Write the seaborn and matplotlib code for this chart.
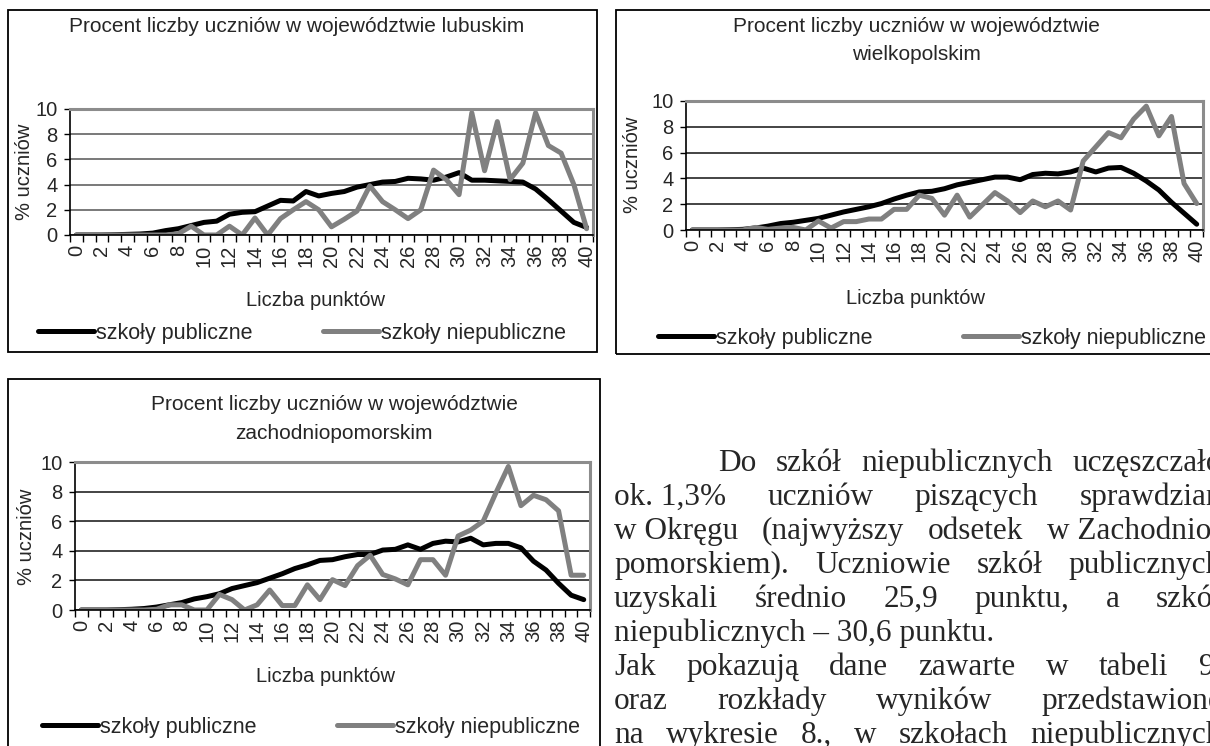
import matplotlib
matplotlib.use("Agg")
import matplotlib.pyplot as plt
from matplotlib.patches import Rectangle
import numpy as np
import pandas as pd
import seaborn as sns

W, H = 1210, 746

# ── data ──────────────────────────────────────────────────────────────
punkty = list(range(41))
serie = ["szkoły publiczne", "szkoły niepubliczne"]

lubuskie_publiczne = [0, 0, 0, 0.02, 0.05, 0.08, 0.15, 0.35, 0.5, 0.75, 1.0, 1.1, 1.65, 1.8, 1.85, 2.3,
                      2.75, 2.7, 3.45, 3.1, 3.3, 3.45, 3.8, 4.0, 4.2, 4.25, 4.5, 4.45, 4.35, 4.6, 4.95,
                      4.35, 4.35, 4.3, 4.25, 4.2, 3.65, 2.8, 1.9, 1.0, 0.6]
lubuskie_niepubliczne = [0, 0, 0, 0, 0, 0, 0, 0, 0.1, 0.7, 0, 0, 0.7, 0, 1.35, 0, 1.3, 2.0, 2.65, 2.0,
                         0.65, 1.25, 1.9, 3.9, 2.65, 2.0, 1.3, 2.0, 5.15, 4.4, 3.2, 9.7, 5.1, 9.0, 4.4,
                         5.7, 9.7, 7.1, 6.5, 4.0, 0.5]

wielkopolskie_publiczne = [0, 0, 0, 0.02, 0.05, 0.15, 0.3, 0.5, 0.6, 0.75, 0.9, 1.15, 1.4, 1.6, 1.8,
                           2.05, 2.4, 2.7, 2.95, 3.0, 3.2, 3.5, 3.7, 3.9, 4.1, 4.1, 3.9, 4.3, 4.4, 4.35,
                           4.5, 4.8, 4.5, 4.8, 4.85, 4.4, 3.8, 3.1, 2.15, 1.3, 0.45]
wielkopolskie_niepubliczne = [0, 0, 0, 0, 0, 0.2, 0.05, 0.15, 0.2, 0, 0.7, 0.15, 0.65, 0.65, 0.85,
                              0.85, 1.6, 1.6, 2.7, 2.45, 1.15, 2.7, 1.0, 1.95, 2.9, 2.25, 1.35, 2.25,
                              1.8, 2.25, 1.55, 5.35, 6.45, 7.55, 7.15, 8.6, 9.6, 7.3, 8.8, 3.6, 2.05]

zachodniopomorskie_publiczne = [0, 0, 0, 0.02, 0.05, 0.1, 0.2, 0.35, 0.5, 0.75, 0.9, 1.1, 1.45, 1.65,
                                1.85, 2.15, 2.45, 2.8, 3.05, 3.35, 3.4, 3.6, 3.75, 3.75, 4.05, 4.1, 4.4,
                                4.1, 4.5, 4.65, 4.6, 4.85, 4.4, 4.5, 4.5, 4.2, 3.3, 2.7, 1.8, 1.0, 0.7]
zachodniopomorskie_niepubliczne = [0, 0, 0, 0, 0, 0, 0.05, 0.35, 0.35, 0, 0, 1.05, 0.7, 0, 0.35, 1.35,
                                   0.3, 0.3, 1.7, 0.7, 2.05, 1.65, 3.0, 3.7, 2.4, 2.1, 1.7, 3.4, 3.4,
                                   2.35, 5.0, 5.4, 6.0, 7.9, 9.7, 7.05, 7.75, 7.45, 6.7, 2.35, 2.35]

x_ticks = list(range(0, 41, 2))
y_ticks = [0, 2, 4, 6, 8, 10]

tekst = [
    (["Do", "szkół", "niepublicznych", "uczęszczało"], True),
    (["ok.\u00a01,3%", "uczniów", "piszących", "sprawdzian"], True),
    (["w\u00a0Okręgu", "(najwyższy", "odsetek", "w\u00a0Zachodnio-"], True),
    (["pomorskiem).", "Uczniowie", "szkół", "publicznych"], True),
    (["uzyskali", "średnio", "25,9", "punktu,", "a", "szkół"], True),
    (["niepublicznych – 30,6 punktu."], False),
    (["Jak", "pokazują", "dane", "zawarte", "w", "tabeli", "9."], True),
    (["oraz", "rozkłady", "wyników", "przedstawione"], True),
    (["na", "wykresie", "8.,", "w", "szkołach", "niepublicznych"], True),
]

# ── style ─────────────────────────────────────────────────────────────
sns.set_style("white")
plt.rcParams["font.family"] = ["Liberation Sans", "DejaVu Sans"]

_BLACK = "#000000"
_GRAY = "#808080"
_FRAME = "#8c8c8c"
palette = {serie[0]: _BLACK, serie[1]: _GRAY}


def _rect(x0, y0, x1, y1):
    return [x0 / W, 1 - y1 / H, (x1 - x0) / W, (y1 - y0) / H]


def _fy(y):
    return 1 - y / H


def draw_chart(fig, pub, npub, box, plot, titles, title_cx, ylab, xlab, legend_at, colspace, grid_color):
    x0, y0, x1, y1 = box
    fig.add_artist(Rectangle((x0 / W, _fy(y1)), (x1 - x0) / W, (y1 - y0) / H,
                             transform=fig.transFigure, fill=False, lw=1.3, ec="black"))

    ax = fig.add_axes(_rect(*plot))
    df = pd.DataFrame({
        "punkty": punkty * 2,
        "procent": pub + npub,
        "typ": [serie[0]] * len(pub) + [serie[1]] * len(npub),
    })
    sns.lineplot(data=df, x="punkty", y="procent", hue="typ", hue_order=serie,
                 palette=palette, linewidth=3.6, ax=ax, legend=False)
    for ln in ax.lines:
        ln.set_solid_joinstyle("round")

    ax.set_xlim(-0.5, 40.5)
    ax.set_ylim(0, 10)
    ax.set_xlabel("")
    ax.set_ylabel("")
    ax.set_xticks(x_ticks)
    ax.set_xticklabels([str(v) for v in x_ticks], rotation=90, fontsize=14.5)
    ax.set_xticks(np.arange(-0.5, 41, 1), minor=True)
    ax.set_yticks(y_ticks)
    ax.set_yticklabels([str(v) for v in y_ticks], fontsize=14.5)
    ax.tick_params(axis="x", which="major", length=0, pad=7, bottom=True)
    ax.tick_params(axis="x", which="minor", length=5, width=1, color="black", bottom=True)
    ax.tick_params(axis="y", length=4, width=1, color="black", pad=5, left=True)
    ax.grid(axis="y", color=grid_color, lw=1.1)
    ax.set_axisbelow(True)
    for side in ["top", "right"]:
        ax.spines[side].set_color(_FRAME)
        ax.spines[side].set_linewidth(2.2)
    for side in ["left", "bottom"]:
        ax.spines[side].set_color("black")
        ax.spines[side].set_linewidth(1.2)

    for text, ty in titles:
        fig.text(title_cx / W, _fy(ty), text, ha="center", va="center", fontsize=15)
    fig.text(ylab[0] / W, _fy(ylab[1]), "% uczniów", rotation=90,
             ha="center", va="center", fontsize=14.5)
    fig.text(xlab[0] / W, _fy(xlab[1]), "Liczba punktów", ha="center", va="center", fontsize=14.5)

    fig.legend(ax.lines[:2], serie, loc="center",
               bbox_to_anchor=(legend_at[0] / W, _fy(legend_at[1])),
               ncol=2, frameon=False, fontsize=15.5, handlelength=2.6,
               handletextpad=0.1, columnspacing=colspace, borderpad=0, borderaxespad=0)
    return ax


fig = plt.figure(figsize=(W / 100, H / 100), dpi=100, facecolor="white")

draw_chart(fig, lubuskie_publiczne, lubuskie_niepubliczne,
           box=(8, 10, 597, 352), plot=(70, 109, 593, 235),
           titles=[("Procent liczby uczniów w województwie lubuskim", 27)], title_cx=297,
           ylab=(25, 172), xlab=(316, 300), legend_at=(302, 333), colspace=3.3,
           grid_color="#555555")

draw_chart(fig, wielkopolskie_publiczne, wielkopolskie_niepubliczne,
           box=(616, 10, 1214, 354), plot=(686, 101, 1203, 230),
           titles=[("Procent liczby uczniów w województwie", 27), ("wielkopolskim", 55)],
           title_cx=916, ylab=(632, 165), xlab=(915, 298), legend_at=(932, 338), colspace=4.2,
           grid_color="#111111")

draw_chart(fig, zachodniopomorskie_publiczne, zachodniopomorskie_niepubliczne,
           box=(8, 379, 600, 760), plot=(75, 462, 590, 610),
           titles=[("Procent liczby uczniów w województwie", 405), ("zachodniopomorskim", 433)],
           title_cx=334, ylab=(27, 537), xlab=(325, 676), legend_at=(311, 727), colspace=3.7,
           grid_color="#111111")

# ── justified paragraph on the right ─────────────────────────────────
TEXT_X, TEXT_INDENT, TEXT_R = 614, 718, 1222
BASE_Y, LINE_H = 471, 34
renderer = fig.canvas.get_renderer()

for i, (units, justify) in enumerate(tekst):
    y = BASE_Y + i * LINE_H
    left = TEXT_INDENT if i == 0 else TEXT_X
    items = [fig.text(0, _fy(y), u, ha="left", va="baseline", fontsize=22.5,
                      family="Liberation Serif") for u in units]
    widths = [t.get_window_extent(renderer).width for t in items]
    gap = (TEXT_R - left - sum(widths)) / (len(items) - 1) if justify and len(items) > 1 else 0
    x = left
    for t, w in zip(items, widths):
        t.set_x(x / W)
        x += w + gap

fig.savefig("out.png", dpi=100, facecolor="white")
